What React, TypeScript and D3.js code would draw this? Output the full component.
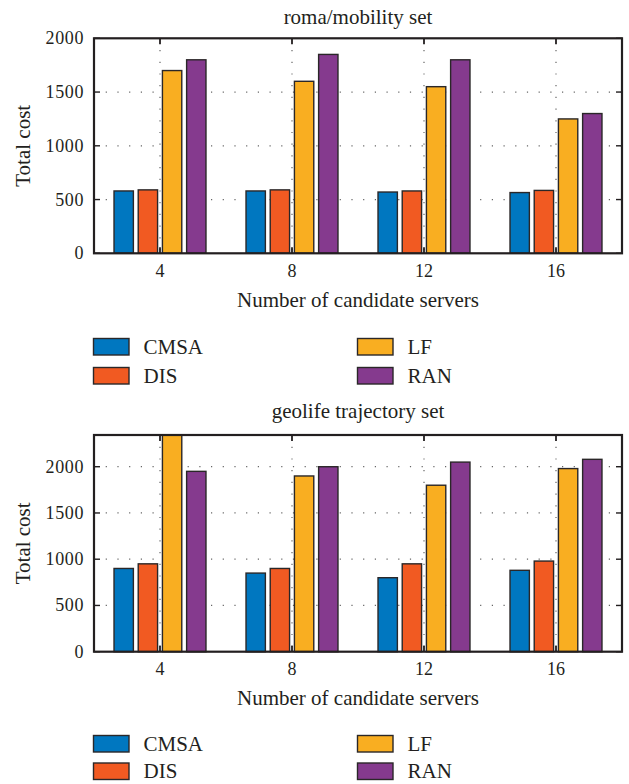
import React from "react";
import * as d3 from "d3";

const categories = ["4", "8", "12", "16"];
const seriesNames = ["CMSA", "DIS", "LF", "RAN"];
const seriesColors = ["#0077c0", "#f15a22", "#f9ae21", "#853a8e"];
const yTicks = [0, 500, 1000, 1500, 2000];

// roma/mobility set
const romaCMSA = [580, 580, 570, 565];
const romaDIS = [590, 590, 580, 585];
const romaLF = [1700, 1600, 1550, 1250];
const romaRAN = [1800, 1850, 1800, 1300];

// geolife trajectory set
const geoCMSA = [900, 850, 800, 880];
const geoDIS = [950, 900, 950, 980];
const geoLF = [2340, 1900, 1800, 1980];
const geoRAN = [1950, 2000, 2050, 2080];

const FONT = "'Liberation Serif', 'Times New Roman', serif";
const INK = "#231f20";

type PanelProps = {
  title: string;
  titleY: number;
  top: number;
  bottom: number;
  yMax: number;
  series: number[][];
  legendTop: number;
  legendGap: number;
};

function Panel({ title, titleY, top, bottom, yMax, series, legendTop, legendGap }: PanelProps) {
  const left = 94;
  const right = 622;
  const x = d3.scaleBand<string>().domain(categories).range([left, right]).padding(0);
  const inner = d3
    .scaleBand<string>()
    .domain(seriesNames)
    .range([-48.4, 48.4])
    .paddingInner(0.2)
    .paddingOuter(0.1);
  const y = d3.scaleLinear().domain([0, yMax]).range([bottom, top]);
  const cx = (c: string) => (x(c) as number) + x.bandwidth() / 2;
  const gridTicks = yTicks.filter((t) => t > 0 && y(t) > top + 1);
  const tickLen = 6;

  return (
    <g>
      <text
        x={(left + right) / 2}
        y={titleY}
        textAnchor="middle"
        fontSize={21}
        fontFamily={FONT}
        fill={INK}
      >
        {title}
      </text>
      {gridTicks.map((t) => (
        <line
          key={"hg" + t}
          x1={left}
          x2={right}
          y1={y(t)}
          y2={y(t)}
          stroke="#666"
          strokeWidth={1.2}
          strokeDasharray="1.2 10.5"
        />
      ))}
      {categories.map((c) => (
        <line
          key={"vg" + c}
          x1={cx(c)}
          x2={cx(c)}
          y1={top}
          y2={bottom}
          stroke="#666"
          strokeWidth={1.2}
          strokeDasharray="1.2 10.5"
        />
      ))}
      {categories.map((c, ci) =>
        seriesNames.map((s, si) => {
          const v = series[si][ci];
          const bx = cx(c) + (inner(s) as number);
          return (
            <rect
              key={c + s}
              x={bx}
              y={y(v)}
              width={inner.bandwidth()}
              height={bottom - y(v)}
              fill={seriesColors[si]}
              stroke="#2a2728"
              strokeWidth={1.4}
            />
          );
        })
      )}
      {categories.map((c) => (
        <g key={"xt" + c}>
          <line x1={cx(c)} x2={cx(c)} y1={bottom} y2={bottom - tickLen} stroke={INK} strokeWidth={1.8} />
          <line x1={cx(c)} x2={cx(c)} y1={top} y2={top + tickLen} stroke={INK} strokeWidth={1.8} />
          <text
            x={cx(c)}
            y={bottom + 23.5}
            textAnchor="middle"
            fontSize={18}
            fontFamily={FONT}
            fill={INK}
          >
            {c}
          </text>
        </g>
      ))}
      {yTicks.map((t) => (
        <g key={"yt" + t}>
          <line x1={left} x2={left + tickLen} y1={y(t)} y2={y(t)} stroke={INK} strokeWidth={1.4} />
          <line x1={right} x2={right - tickLen} y1={y(t)} y2={y(t)} stroke={INK} strokeWidth={1.4} />
          <text
            x={left - 10}
            y={y(t) + 6}
            textAnchor="end"
            fontSize={18}
            fontFamily={FONT}
            fill={INK}
            letterSpacing={0.6}
          >
            {t}
          </text>
        </g>
      ))}
      <rect x={left} y={top} width={right - left} height={bottom - top} fill="none" stroke={INK} strokeWidth={2.2} />
      <text
        transform={`translate(30,${(top + bottom) / 2}) rotate(-90)`}
        textAnchor="middle"
        fontSize={21}
        fontFamily={FONT}
        fill={INK}
      >
        Total cost
      </text>
      <text
        x={358}
        y={bottom + 53.5}
        textAnchor="middle"
        fontSize={21}
        fontFamily={FONT}
        fill={INK}
      >
        Number of candidate servers
      </text>
      {seriesNames.map((s, i) => {
        const col = i < 2 ? 0 : 1;
        const row = i % 2;
        const sx = col === 0 ? 93.5 : 357.5;
        const sy = legendTop + row * legendGap;
        return (
          <g key={"lg" + s}>
            <rect x={sx} y={sy} width={35.5} height={16.5} fill={seriesColors[i]} stroke="#2a2728" strokeWidth={1.4} />
            <text x={sx + 50} y={sy + 15.2} fontSize={21} fontFamily={FONT} fill={INK}>
              {s}
            </text>
          </g>
        );
      })}
    </g>
  );
}

export default function App() {
  return (
    <svg
      width={629}
      height={784}
      style={{ position: "absolute", left: 0, top: 0, display: "block", background: "#fff" }}
    >
      <rect x={0} y={0} width={629} height={784} fill="#fff" />
      <Panel
        title="roma/mobility set"
        titleY={23.5}
        top={38.3}
        bottom={253.3}
        yMax={2000}
        series={[romaCMSA, romaDIS, romaLF, romaRAN]}
        legendTop={338.5}
        legendGap={29}
      />
      <Panel
        title="geolife trajectory set"
        titleY={418}
        top={435}
        bottom={651.7}
        yMax={2343}
        series={[geoCMSA, geoDIS, geoLF, geoRAN]}
        legendTop={735.5}
        legendGap={27.5}
      />
    </svg>
  );
}
